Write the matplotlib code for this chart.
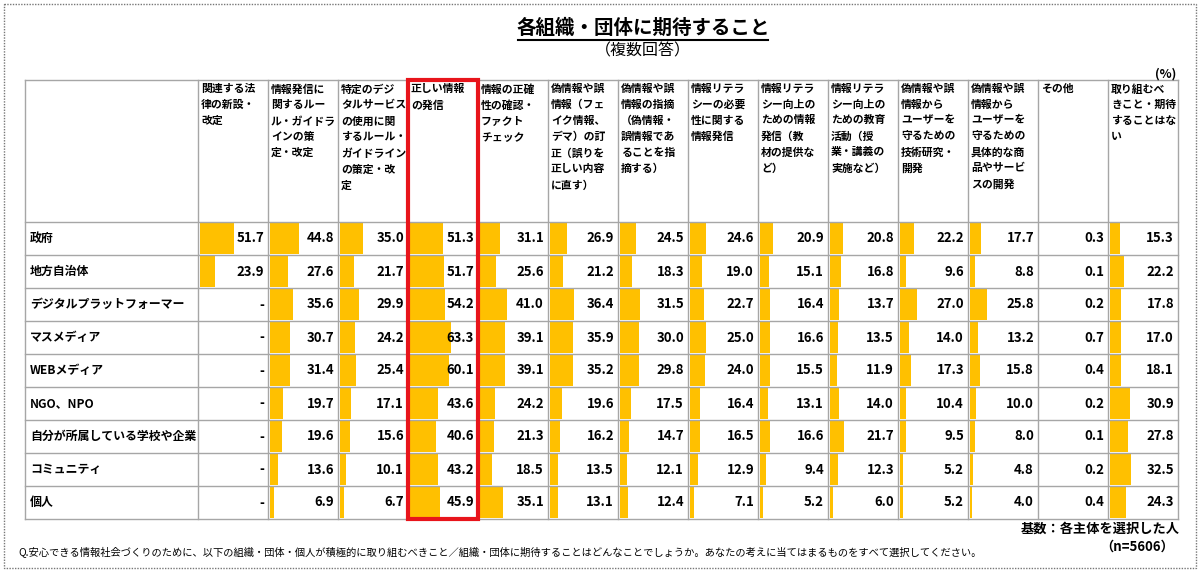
import numpy as np
import matplotlib.pyplot as plt
from matplotlib.patches import Rectangle

plt.rcParams['font.family'] = ['Noto Sans CJK JP', 'DejaVu Sans']

# row labels (organisations)
rows = ["政府", "地方自治体", "デジタルプラットフォーマー", "マスメディア", "WEBメディア",
        "NGO、NPO", "自分が所属している学校や企業", "コミュニティ", "個人"]

# column headers, line breaks as in the original
headers = [
    "関連する法\n律の新設・\n改定",
    "情報発信に\n関するルー\nル・ガイドラ\nインの策\n定・改定",
    "特定のデジ\nタルサービス\nの使用に関\nするルール・\nガイドライン\nの策定・改\n定",
    "正しい情報\nの発信",
    "情報の正確\n性の確認・\nファクト\nチェック",
    "偽情報や誤\n情報（フェ\nイク情報、\nデマ）の訂\n正（誤りを\n正しい内容\nに直す）",
    "偽情報や誤\n情報の指摘\n（偽情報・\n誤情報であ\nることを指\n摘する）",
    "情報リテラ\nシーの必要\n性に関する\n情報発信",
    "情報リテラ\nシー向上の\nための情報\n発信（教\n材の提供な\nど）",
    "情報リテラ\nシー向上の\nための教育\n活動（授\n業・講義の\n実施など）",
    "偽情報や誤\n情報から\nユーザーを\n守るための\n技術研究・\n開発",
    "偽情報や誤\n情報から\nユーザーを\n守るための\n具体的な商\n品やサービ\nスの開発",
    "その他",
    "取り組むべ\nきこと・期待\nすることはな\nい",
]

nan = np.nan
# values per column (%), one entry per row; nan = "-"
law       = [51.7, 23.9, nan, nan, nan, nan, nan, nan, nan]
rules     = [44.8, 27.6, 35.6, 30.7, 31.4, 19.7, 19.6, 13.6, 6.9]
digital   = [35.0, 21.7, 29.9, 24.2, 25.4, 17.1, 15.6, 10.1, 6.7]
correct   = [51.3, 51.7, 54.2, 63.3, 60.1, 43.6, 40.6, 43.2, 45.9]
factcheck = [31.1, 25.6, 41.0, 39.1, 39.1, 24.2, 21.3, 18.5, 35.1]
fix_fake  = [26.9, 21.2, 36.4, 35.9, 35.2, 19.6, 16.2, 13.5, 13.1]
point_out = [24.5, 18.3, 31.5, 30.0, 29.8, 17.5, 14.7, 12.1, 12.4]
lit_need  = [24.6, 19.0, 22.7, 25.0, 24.0, 16.4, 16.5, 12.9, 7.1]
lit_info  = [20.9, 15.1, 16.4, 16.6, 15.5, 13.1, 16.6, 9.4, 5.2]
lit_edu   = [20.8, 16.8, 13.7, 13.5, 11.9, 14.0, 21.7, 12.3, 6.0]
tech      = [22.2, 9.6, 27.0, 14.0, 17.3, 10.4, 9.5, 5.2, 5.2]
products  = [17.7, 8.8, 25.8, 13.2, 15.8, 10.0, 8.0, 4.8, 4.0]
other     = [0.3, 0.1, 0.2, 0.7, 0.4, 0.2, 0.1, 0.2, 0.4]
nothing   = [15.3, 22.2, 17.8, 17.0, 18.1, 30.9, 27.8, 32.5, 24.3]

columns = [law, rules, digital, correct, factcheck, fix_fake, point_out,
           lit_need, lit_info, lit_edu, tech, products, other, nothing]
highlight = 3  # 正しい情報の発信

# layout in pixel-like units
x0, lab_w, col_w = 25, 173, 70
head_top, head_bot, row_h = 80, 222, 33
bar_scale = 0.66  # px per %
grid_c = "#a6a6a6"
bar_c = "#FFC000"

fig = plt.figure(figsize=(12, 5.74), dpi=100)
ax = fig.add_axes([0, 0, 1, 1])
ax.set_xlim(0, 1200)
ax.set_ylim(574, 0)
ax.axis("off")

n_rows, n_cols = len(rows), len(columns)
col_left = x0 + lab_w + np.arange(n_cols) * col_w
row_top = head_bot + np.arange(n_rows) * row_h
x_end = col_left[-1] + col_w
y_end = row_top[-1] + row_h

# bars
for j, vals in enumerate(columns):
    v = np.array(vals, dtype=float)
    ok = ~np.isnan(v)
    ax.barh(row_top[ok] + row_h / 2, v[ok] * bar_scale, left=col_left[j] + 1.5,
            height=row_h - 2, color=bar_c, zorder=1)
    for i in range(n_rows):
        txt = "-" if np.isnan(v[i]) else f"{v[i]:.1f}"
        ax.text(col_left[j] + col_w - 4, row_top[i] + row_h / 2, txt, ha="right",
                va="center", fontsize=9.5, fontweight="bold", zorder=3)

# row labels
for i, r in enumerate(rows):
    ax.text(x0 + 5, row_top[i] + row_h / 2, r, ha="left", va="center",
            fontsize=8.6, fontweight="bold")

# headers
for j, h in enumerate(headers):
    ax.text(col_left[j] + 3, head_top + 4, h, ha="left", va="top", fontsize=7.8,
            fontweight="bold", linespacing=1.7)

# grid lines
lw = 1
for x in np.append(col_left, [x0, x_end]):
    ax.plot([x, x], [head_top, y_end], color=grid_c, lw=lw, zorder=2)
for y in np.append(row_top, [head_top, y_end]):
    ax.plot([x0, x_end], [y, y], color=grid_c, lw=lw, zorder=2)

# red highlight box
hx = col_left[highlight]
ax.add_patch(Rectangle((hx, head_top), col_w, y_end - head_top, fill=False,
                       edgecolor="#e8141b", lw=3, zorder=4))

# outer dotted frame
ax.add_patch(Rectangle((4, 4), 1192, 564, fill=False, edgecolor="#777777",
                       lw=1, linestyle=(0, (1, 1)), zorder=0))

# titles
ax.text(643, 28, "各組織・団体に期待すること", ha="center", va="center",
        fontsize=14, fontweight="bold")
ax.plot([518, 768], [40, 40], color="black", lw=1.5)
ax.text(643, 51, "（複数回答）", ha="center", va="center", fontsize=11.5)
ax.text(x_end - 2, 74, "(%)", ha="right", va="center", fontsize=9, fontweight="bold")

# footnotes
ax.text(x_end + 2, 529, "基数：各主体を選択した人", ha="right", va="center",
        fontsize=9.5, fontweight="bold")
ax.text(x_end - 4, 547, "（n=5606）", ha="right", va="center", fontsize=9.5,
        fontweight="bold")
ax.text(18, 552, "Q.安心できる情報社会づくりのために、以下の組織・団体・個人が積極的に取り組むべきこと／組織・団体に期待することはどんなことでしょうか。あなたの考えに当てはまるものをすべて選択してください。",
        ha="left", va="center", fontsize=7.4)

fig.savefig("out.png", dpi=100)
